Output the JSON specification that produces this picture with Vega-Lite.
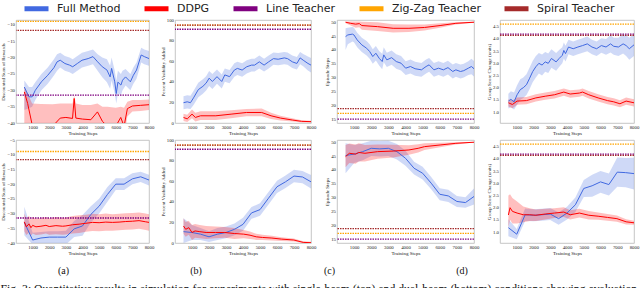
{
"$schema": "https://vega.github.io/schema/vega-lite/v6.json",
"padding": {"left": 0, "right": 0, "top": -6, "bottom": 0},
"title": {"text": "Fig. 3: Quantitative results in simulation for experiments with single-beam (top) and dual-beam (bottom) conditions showing evaluation", "orient": "bottom", "anchor": "start", "frame": "bounds", "fontSize": 11.7, "offset": 8},
"columns": 4,
"align": "each",
"bounds": "flush",
"spacing": {"row": 17, "column": 26},
"datasets": {
"t": [
{"p":"a1","s":"Line Teacher","y":-31.5},{"p":"a1","s":"Zig-Zag Teacher","y":-8.9},{"p":"a1","s":"Spiral Teacher","y":-11.7},
{"p":"a2","s":"Line Teacher","y":-31.5},{"p":"a2","s":"Zig-Zag Teacher","y":-8.9},{"p":"a2","s":"Spiral Teacher","y":-11.7},
{"p":"b1","s":"Line Teacher","y":91},{"p":"b1","s":"Zig-Zag Teacher","y":95},{"p":"b1","s":"Spiral Teacher","y":95},
{"p":"b2","s":"Line Teacher","y":91},{"p":"b2","s":"Zig-Zag Teacher","y":95},{"p":"b2","s":"Spiral Teacher","y":95},
{"p":"c1","s":"Line Teacher","y":15},{"p":"c1","s":"Zig-Zag Teacher","y":17.1},{"p":"c1","s":"Spiral Teacher","y":18.8},
{"p":"c2","s":"Line Teacher","y":15},{"p":"c2","s":"Zig-Zag Teacher","y":17.1},{"p":"c2","s":"Spiral Teacher","y":18.8},
{"p":"d1","s":"Line Teacher","y":4.2},{"p":"d1","s":"Zig-Zag Teacher","y":4.61},{"p":"d1","s":"Spiral Teacher","y":4.15},
{"p":"d2","s":"Line Teacher","y":4.2},{"p":"d2","s":"Zig-Zag Teacher","y":4.61},{"p":"d2","s":"Spiral Teacher","y":4.15}
],
"d": [
{"p":"a1","s":"Full Method","x":500,"m":-29,"lo":-36,"hi":-27},
{"p":"a1","s":"Full Method","x":780,"m":-32,"lo":-35.5,"hi":-29},
{"p":"a1","s":"Full Method","x":970,"m":-32,"lo":-35,"hi":-29},
{"p":"a1","s":"Full Method","x":1160,"m":-30,"lo":-33,"hi":-27.5},
{"p":"a1","s":"Full Method","x":1530,"m":-27.4,"lo":-30,"hi":-25},
{"p":"a1","s":"Full Method","x":1910,"m":-25.4,"lo":-28,"hi":-23},
{"p":"a1","s":"Full Method","x":2280,"m":-23.1,"lo":-25.5,"hi":-20.5},
{"p":"a1","s":"Full Method","x":2470,"m":-21.3,"lo":-24,"hi":-19},
{"p":"a1","s":"Full Method","x":2660,"m":-20.8,"lo":-23,"hi":-18.5},
{"p":"a1","s":"Full Method","x":2940,"m":-21.8,"lo":-24,"hi":-19.5},
{"p":"a1","s":"Full Method","x":3220,"m":-22.3,"lo":-24.5,"hi":-20},
{"p":"a1","s":"Full Method","x":3410,"m":-22.8,"lo":-25,"hi":-20.5},
{"p":"a1","s":"Full Method","x":3690,"m":-21.8,"lo":-24,"hi":-19.5},
{"p":"a1","s":"Full Method","x":3970,"m":-20.8,"lo":-23,"hi":-18.5},
{"p":"a1","s":"Full Method","x":4340,"m":-20.3,"lo":-22.5,"hi":-18},
{"p":"a1","s":"Full Method","x":4630,"m":-19.7,"lo":-22,"hi":-17.5},
{"p":"a1","s":"Full Method","x":4910,"m":-21.3,"lo":-24,"hi":-19},
{"p":"a1","s":"Full Method","x":5190,"m":-22.8,"lo":-26,"hi":-20},
{"p":"a1","s":"Full Method","x":5470,"m":-23.8,"lo":-27.5,"hi":-20.5},
{"p":"a1","s":"Full Method","x":5660,"m":-25.9,"lo":-29.5,"hi":-22.5},
{"p":"a1","s":"Full Method","x":5750,"m":-23.3,"lo":-27,"hi":-20},
{"p":"a1","s":"Full Method","x":5940,"m":-27.4,"lo":-31,"hi":-24},
{"p":"a1","s":"Full Method","x":6030,"m":-31,"lo":-34,"hi":-27},
{"p":"a1","s":"Full Method","x":6130,"m":-27.5,"lo":-31,"hi":-24},
{"p":"a1","s":"Full Method","x":6310,"m":-28.4,"lo":-31.5,"hi":-25},
{"p":"a1","s":"Full Method","x":6410,"m":-26.9,"lo":-30,"hi":-24},
{"p":"a1","s":"Full Method","x":6590,"m":-25.9,"lo":-28.5,"hi":-23.5},
{"p":"a1","s":"Full Method","x":6880,"m":-27.4,"lo":-30,"hi":-25},
{"p":"a1","s":"Full Method","x":7060,"m":-25.4,"lo":-28,"hi":-23},
{"p":"a1","s":"Full Method","x":7250,"m":-23.8,"lo":-26.5,"hi":-21.5},
{"p":"a1","s":"Full Method","x":7530,"m":-19.2,"lo":-21.5,"hi":-17},
{"p":"a1","s":"Full Method","x":7720,"m":-19.7,"lo":-22,"hi":-17.5},
{"p":"a1","s":"Full Method","x":8000,"m":-20.3,"lo":-22.5,"hi":-18},
{"p":"a1","s":"DDPG","x":500,"m":-30.5,"lo":-42,"hi":-29},
{"p":"a1","s":"DDPG","x":700,"m":-34,"lo":-42,"hi":-31},
{"p":"a1","s":"DDPG","x":970,"m":-40.5,"lo":-44,"hi":-34},
{"p":"a1","s":"DDPG","x":1500,"m":-41.5,"lo":-44,"hi":-34.2},
{"p":"a1","s":"DDPG","x":2200,"m":-41,"lo":-44,"hi":-34.3},
{"p":"a1","s":"DDPG","x":2660,"m":-38.5,"lo":-43,"hi":-34},
{"p":"a1","s":"DDPG","x":3000,"m":-38.3,"lo":-43,"hi":-34},
{"p":"a1","s":"DDPG","x":3400,"m":-38.6,"lo":-43,"hi":-34},
{"p":"a1","s":"DDPG","x":3500,"m":-32.5,"lo":-42,"hi":-31.5},
{"p":"a1","s":"DDPG","x":3600,"m":-38.5,"lo":-43,"hi":-34},
{"p":"a1","s":"DDPG","x":4000,"m":-38.8,"lo":-43,"hi":-34.5},
{"p":"a1","s":"DDPG","x":4500,"m":-39,"lo":-43,"hi":-34.5},
{"p":"a1","s":"DDPG","x":4900,"m":-36.6,"lo":-43,"hi":-34},
{"p":"a1","s":"DDPG","x":5200,"m":-39.5,"lo":-43,"hi":-35},
{"p":"a1","s":"DDPG","x":5500,"m":-41,"lo":-44,"hi":-35},
{"p":"a1","s":"DDPG","x":6000,"m":-41,"lo":-44,"hi":-35.3},
{"p":"a1","s":"DDPG","x":6300,"m":-38.3,"lo":-43,"hi":-35},
{"p":"a1","s":"DDPG","x":6500,"m":-41,"lo":-44,"hi":-35.3},
{"p":"a1","s":"DDPG","x":6700,"m":-35.6,"lo":-38,"hi":-33.5},
{"p":"a1","s":"DDPG","x":7000,"m":-34.8,"lo":-36.5,"hi":-33},
{"p":"a1","s":"DDPG","x":7500,"m":-34.6,"lo":-36.3,"hi":-33},
{"p":"a1","s":"DDPG","x":8000,"m":-34.4,"lo":-36,"hi":-32.8},
{"p":"a2","s":"Full Method","x":500,"m":-33,"lo":-37.4,"hi":-27.7},
{"p":"a2","s":"Full Method","x":1000,"m":-39,"lo":-40.5,"hi":-36.5},
{"p":"a2","s":"Full Method","x":1500,"m":-38.3,"lo":-40.3,"hi":-36.3},
{"p":"a2","s":"Full Method","x":2000,"m":-38,"lo":-40,"hi":-36},
{"p":"a2","s":"Full Method","x":2500,"m":-38,"lo":-40,"hi":-36},
{"p":"a2","s":"Full Method","x":3000,"m":-38,"lo":-40.5,"hi":-35.8},
{"p":"a2","s":"Full Method","x":3500,"m":-35.2,"lo":-38,"hi":-32.5},
{"p":"a2","s":"Full Method","x":4000,"m":-34.2,"lo":-37.5,"hi":-30.5},
{"p":"a2","s":"Full Method","x":4500,"m":-30.3,"lo":-33,"hi":-27.5},
{"p":"a2","s":"Full Method","x":5000,"m":-27.5,"lo":-30,"hi":-25},
{"p":"a2","s":"Full Method","x":5500,"m":-23.5,"lo":-26,"hi":-21},
{"p":"a2","s":"Full Method","x":6000,"m":-20,"lo":-22,"hi":-18},
{"p":"a2","s":"Full Method","x":6500,"m":-20,"lo":-22,"hi":-18},
{"p":"a2","s":"Full Method","x":7000,"m":-18.2,"lo":-20,"hi":-16.3},
{"p":"a2","s":"Full Method","x":7500,"m":-17.5,"lo":-19.3,"hi":-15.8},
{"p":"a2","s":"Full Method","x":8000,"m":-18.6,"lo":-20.5,"hi":-16.8},
{"p":"a2","s":"DDPG","x":500,"m":-32.8,"lo":-36,"hi":-30},
{"p":"a2","s":"DDPG","x":620,"m":-34.5,"lo":-37.3,"hi":-31.7},
{"p":"a2","s":"DDPG","x":780,"m":-33.5,"lo":-36.5,"hi":-30.7},
{"p":"a2","s":"DDPG","x":900,"m":-34.8,"lo":-37.6,"hi":-32},
{"p":"a2","s":"DDPG","x":1000,"m":-34,"lo":-36.8,"hi":-31.2},
{"p":"a2","s":"DDPG","x":1200,"m":-34.5,"lo":-37.3,"hi":-31.7},
{"p":"a2","s":"DDPG","x":1500,"m":-34.3,"lo":-37.1,"hi":-31.5},
{"p":"a2","s":"DDPG","x":1800,"m":-34,"lo":-36.8,"hi":-31.2},
{"p":"a2","s":"DDPG","x":2000,"m":-34.4,"lo":-37.2,"hi":-31.6},
{"p":"a2","s":"DDPG","x":2400,"m":-34.1,"lo":-37,"hi":-31.2},
{"p":"a2","s":"DDPG","x":2800,"m":-34.3,"lo":-37.2,"hi":-31.4},
{"p":"a2","s":"DDPG","x":3000,"m":-34.2,"lo":-37.1,"hi":-31.3},
{"p":"a2","s":"DDPG","x":3400,"m":-33.8,"lo":-36.8,"hi":-30.8},
{"p":"a2","s":"DDPG","x":3800,"m":-33.6,"lo":-36.6,"hi":-30.6},
{"p":"a2","s":"DDPG","x":4200,"m":-33.3,"lo":-36.2,"hi":-30.4},
{"p":"a2","s":"DDPG","x":4600,"m":-33,"lo":-35.9,"hi":-30.1},
{"p":"a2","s":"DDPG","x":5000,"m":-33.1,"lo":-36,"hi":-30.2},
{"p":"a2","s":"DDPG","x":5400,"m":-32.9,"lo":-35.8,"hi":-30},
{"p":"a2","s":"DDPG","x":5800,"m":-33,"lo":-35.8,"hi":-30.2},
{"p":"a2","s":"DDPG","x":6200,"m":-32.9,"lo":-35.7,"hi":-30.1},
{"p":"a2","s":"DDPG","x":6600,"m":-32.7,"lo":-35.5,"hi":-29.9},
{"p":"a2","s":"DDPG","x":7000,"m":-32.6,"lo":-35.4,"hi":-29.8},
{"p":"a2","s":"DDPG","x":7400,"m":-32.4,"lo":-35.2,"hi":-29.6},
{"p":"a2","s":"DDPG","x":7800,"m":-32.8,"lo":-35.6,"hi":-30},
{"p":"a2","s":"DDPG","x":8000,"m":-33,"lo":-35.8,"hi":-30.2},
{"p":"b1","s":"Full Method","x":500,"m":19.7,"lo":13.4,"hi":26},
{"p":"b1","s":"Full Method","x":720,"m":20.6,"lo":14,"hi":27},
{"p":"b1","s":"Full Method","x":910,"m":19.7,"lo":13.5,"hi":26.5},
{"p":"b1","s":"Full Method","x":1090,"m":24.4,"lo":17.5,"hi":31},
{"p":"b1","s":"Full Method","x":1370,"m":32.4,"lo":25,"hi":39},
{"p":"b1","s":"Full Method","x":1640,"m":35.6,"lo":28.5,"hi":42.5},
{"p":"b1","s":"Full Method","x":1830,"m":38.7,"lo":31.5,"hi":45.5},
{"p":"b1","s":"Full Method","x":2010,"m":43.5,"lo":36,"hi":50.5},
{"p":"b1","s":"Full Method","x":2200,"m":40.3,"lo":33,"hi":47.5},
{"p":"b1","s":"Full Method","x":2470,"m":45,"lo":38,"hi":52},
{"p":"b1","s":"Full Method","x":2750,"m":40.3,"lo":33.5,"hi":47},
{"p":"b1","s":"Full Method","x":2930,"m":46.7,"lo":40,"hi":53},
{"p":"b1","s":"Full Method","x":3210,"m":45,"lo":38.5,"hi":51.5},
{"p":"b1","s":"Full Method","x":3490,"m":51.4,"lo":45,"hi":58},
{"p":"b1","s":"Full Method","x":3670,"m":53,"lo":46.5,"hi":59.5},
{"p":"b1","s":"Full Method","x":3950,"m":51.4,"lo":45,"hi":58},
{"p":"b1","s":"Full Method","x":4220,"m":54.6,"lo":48,"hi":61},
{"p":"b1","s":"Full Method","x":4500,"m":56.2,"lo":50,"hi":62.5},
{"p":"b1","s":"Full Method","x":4680,"m":56.2,"lo":50,"hi":62.5},
{"p":"b1","s":"Full Method","x":4960,"m":59.4,"lo":53,"hi":65.5},
{"p":"b1","s":"Full Method","x":5240,"m":56.2,"lo":50,"hi":62.5},
{"p":"b1","s":"Full Method","x":5510,"m":59.4,"lo":53,"hi":65.5},
{"p":"b1","s":"Full Method","x":5790,"m":62.5,"lo":56.5,"hi":68.5},
{"p":"b1","s":"Full Method","x":6070,"m":61.9,"lo":56,"hi":68},
{"p":"b1","s":"Full Method","x":6430,"m":63.2,"lo":57,"hi":69},
{"p":"b1","s":"Full Method","x":6620,"m":62.5,"lo":56.5,"hi":68.5},
{"p":"b1","s":"Full Method","x":6900,"m":59.4,"lo":53.5,"hi":65.5},
{"p":"b1","s":"Full Method","x":7170,"m":57.8,"lo":52,"hi":64},
{"p":"b1","s":"Full Method","x":7360,"m":63.2,"lo":57,"hi":69},
{"p":"b1","s":"Full Method","x":7540,"m":61,"lo":55,"hi":67},
{"p":"b1","s":"Full Method","x":7820,"m":57.8,"lo":51,"hi":64.5},
{"p":"b1","s":"Full Method","x":8000,"m":56.2,"lo":49,"hi":63},
{"p":"b1","s":"DDPG","x":500,"m":5.4,"lo":2,"hi":9},
{"p":"b1","s":"DDPG","x":720,"m":4,"lo":1,"hi":8},
{"p":"b1","s":"DDPG","x":1000,"m":8.6,"lo":4.5,"hi":13},
{"p":"b1","s":"DDPG","x":1200,"m":5.4,"lo":1.5,"hi":10},
{"p":"b1","s":"DDPG","x":1500,"m":7,"lo":3,"hi":11.5},
{"p":"b1","s":"DDPG","x":2400,"m":7,"lo":3,"hi":11.5},
{"p":"b1","s":"DDPG","x":3300,"m":8.6,"lo":4.5,"hi":12.5},
{"p":"b1","s":"DDPG","x":4200,"m":10.2,"lo":6.5,"hi":13.5},
{"p":"b1","s":"DDPG","x":5100,"m":10.2,"lo":6.5,"hi":14},
{"p":"b1","s":"DDPG","x":5650,"m":7,"lo":4,"hi":10},
{"p":"b1","s":"DDPG","x":6200,"m":4.8,"lo":2.5,"hi":7},
{"p":"b1","s":"DDPG","x":6900,"m":2.9,"lo":1.5,"hi":4.5},
{"p":"b1","s":"DDPG","x":7450,"m":1.6,"lo":0.6,"hi":2.6},
{"p":"b1","s":"DDPG","x":8000,"m":1.3,"lo":0.5,"hi":2.1},
{"p":"b2","s":"Full Method","x":500,"m":11,"lo":0,"hi":24},
{"p":"b2","s":"Full Method","x":1000,"m":10.2,"lo":3,"hi":17.5},
{"p":"b2","s":"Full Method","x":1500,"m":8.6,"lo":3,"hi":14.5},
{"p":"b2","s":"Full Method","x":2000,"m":6,"lo":1,"hi":11.5},
{"p":"b2","s":"Full Method","x":2500,"m":8.6,"lo":3,"hi":14.5},
{"p":"b2","s":"Full Method","x":3000,"m":10.2,"lo":4.5,"hi":16},
{"p":"b2","s":"Full Method","x":3500,"m":13.3,"lo":7.5,"hi":19},
{"p":"b2","s":"Full Method","x":4000,"m":18.1,"lo":12,"hi":24.5},
{"p":"b2","s":"Full Method","x":4500,"m":29.2,"lo":23.5,"hi":35},
{"p":"b2","s":"Full Method","x":5000,"m":32.4,"lo":26.5,"hi":38.5},
{"p":"b2","s":"Full Method","x":5500,"m":43.5,"lo":37.5,"hi":49.5},
{"p":"b2","s":"Full Method","x":6000,"m":54.6,"lo":48.5,"hi":60.5},
{"p":"b2","s":"Full Method","x":6500,"m":59.4,"lo":53.5,"hi":65.5},
{"p":"b2","s":"Full Method","x":7000,"m":65,"lo":59,"hi":71},
{"p":"b2","s":"Full Method","x":7500,"m":64.1,"lo":58,"hi":70},
{"p":"b2","s":"Full Method","x":8000,"m":59.4,"lo":53,"hi":66},
{"p":"b2","s":"DDPG","x":500,"m":16.5,"lo":9,"hi":24},
{"p":"b2","s":"DDPG","x":630,"m":13.3,"lo":6,"hi":20.5},
{"p":"b2","s":"DDPG","x":810,"m":14.9,"lo":8,"hi":21.5},
{"p":"b2","s":"DDPG","x":1000,"m":10.2,"lo":3,"hi":17.5},
{"p":"b2","s":"DDPG","x":1180,"m":11.7,"lo":5,"hi":18.5},
{"p":"b2","s":"DDPG","x":1460,"m":11,"lo":4.5,"hi":17.5},
{"p":"b2","s":"DDPG","x":1830,"m":10.2,"lo":4,"hi":16.5},
{"p":"b2","s":"DDPG","x":2380,"m":10.2,"lo":4.5,"hi":16},
{"p":"b2","s":"DDPG","x":2930,"m":10.2,"lo":5,"hi":15.5},
{"p":"b2","s":"DDPG","x":3490,"m":9.2,"lo":4,"hi":14.5},
{"p":"b2","s":"DDPG","x":4040,"m":8.6,"lo":4.5,"hi":12.7},
{"p":"b2","s":"DDPG","x":4410,"m":7.6,"lo":4,"hi":11.2},
{"p":"b2","s":"DDPG","x":4780,"m":6,"lo":3,"hi":9},
{"p":"b2","s":"DDPG","x":5140,"m":5.4,"lo":2.8,"hi":8},
{"p":"b2","s":"DDPG","x":5700,"m":4.8,"lo":2.5,"hi":7.1},
{"p":"b2","s":"DDPG","x":6250,"m":3.8,"lo":2,"hi":5.6},
{"p":"b2","s":"DDPG","x":6990,"m":2.9,"lo":1.4,"hi":4.4},
{"p":"b2","s":"DDPG","x":7540,"m":0.6,"lo":0,"hi":1.6},
{"p":"b2","s":"DDPG","x":8000,"m":0.3,"lo":0,"hi":1.2},
{"p":"c1","s":"Full Method","x":500,"m":44.8,"lo":40,"hi":47.8},
{"p":"c1","s":"Full Method","x":630,"m":45.4,"lo":42,"hi":48},
{"p":"c1","s":"Full Method","x":900,"m":45.7,"lo":43,"hi":48.3},
{"p":"c1","s":"Full Method","x":990,"m":45.4,"lo":42.8,"hi":48},
{"p":"c1","s":"Full Method","x":1180,"m":43.6,"lo":41,"hi":46.2},
{"p":"c1","s":"Full Method","x":1450,"m":41.8,"lo":39.2,"hi":44.4},
{"p":"c1","s":"Full Method","x":1730,"m":40.6,"lo":38,"hi":43.2},
{"p":"c1","s":"Full Method","x":1910,"m":39.4,"lo":36.8,"hi":42},
{"p":"c1","s":"Full Method","x":2090,"m":37.6,"lo":35,"hi":40.2},
{"p":"c1","s":"Full Method","x":2270,"m":38.8,"lo":36.2,"hi":41.4},
{"p":"c1","s":"Full Method","x":2460,"m":37,"lo":34.4,"hi":39.6},
{"p":"c1","s":"Full Method","x":2640,"m":35.8,"lo":33,"hi":38.6},
{"p":"c1","s":"Full Method","x":2730,"m":38.2,"lo":35.5,"hi":41},
{"p":"c1","s":"Full Method","x":2910,"m":36.4,"lo":33.8,"hi":39},
{"p":"c1","s":"Full Method","x":3190,"m":37.2,"lo":34.6,"hi":39.8},
{"p":"c1","s":"Full Method","x":3460,"m":35.8,"lo":33.2,"hi":38.4},
{"p":"c1","s":"Full Method","x":3740,"m":35.2,"lo":32.6,"hi":37.8},
{"p":"c1","s":"Full Method","x":4010,"m":33.4,"lo":30.9,"hi":35.9},
{"p":"c1","s":"Full Method","x":4290,"m":34,"lo":31.5,"hi":36.5},
{"p":"c1","s":"Full Method","x":4560,"m":33.2,"lo":30.7,"hi":35.7},
{"p":"c1","s":"Full Method","x":4930,"m":32.8,"lo":30.3,"hi":35.3},
{"p":"c1","s":"Full Method","x":5200,"m":34,"lo":31.5,"hi":36.5},
{"p":"c1","s":"Full Method","x":5380,"m":34.6,"lo":32.1,"hi":37.1},
{"p":"c1","s":"Full Method","x":5660,"m":32.8,"lo":30.3,"hi":35.3},
{"p":"c1","s":"Full Method","x":5930,"m":33.4,"lo":30.9,"hi":35.9},
{"p":"c1","s":"Full Method","x":6210,"m":32.8,"lo":30.3,"hi":35.3},
{"p":"c1","s":"Full Method","x":6480,"m":33.6,"lo":31.1,"hi":36.1},
{"p":"c1","s":"Full Method","x":6760,"m":32.2,"lo":29.7,"hi":34.7},
{"p":"c1","s":"Full Method","x":6940,"m":32.8,"lo":30.3,"hi":35.3},
{"p":"c1","s":"Full Method","x":7210,"m":32.2,"lo":29.7,"hi":34.7},
{"p":"c1","s":"Full Method","x":7400,"m":32.5,"lo":30,"hi":35},
{"p":"c1","s":"Full Method","x":7670,"m":33.4,"lo":30.9,"hi":35.9},
{"p":"c1","s":"Full Method","x":7850,"m":34,"lo":31.2,"hi":36.8},
{"p":"c1","s":"Full Method","x":8000,"m":33.2,"lo":30.4,"hi":36},
{"p":"c1","s":"DDPG","x":500,"m":50,"lo":49.6,"hi":50.3},
{"p":"c1","s":"DDPG","x":800,"m":49.6,"lo":48.8,"hi":50.3},
{"p":"c1","s":"DDPG","x":1090,"m":49.3,"lo":48,"hi":50.3},
{"p":"c1","s":"DDPG","x":1300,"m":49.5,"lo":48.2,"hi":50.3},
{"p":"c1","s":"DDPG","x":1450,"m":48.8,"lo":47.3,"hi":50.2},
{"p":"c1","s":"DDPG","x":2370,"m":48.4,"lo":46.8,"hi":50},
{"p":"c1","s":"DDPG","x":3280,"m":47.8,"lo":46.3,"hi":49.3},
{"p":"c1","s":"DDPG","x":4200,"m":47.8,"lo":46.5,"hi":49.2},
{"p":"c1","s":"DDPG","x":5110,"m":48.1,"lo":47,"hi":49.2},
{"p":"c1","s":"DDPG","x":6020,"m":48.8,"lo":48,"hi":49.6},
{"p":"c1","s":"DDPG","x":6940,"m":49.6,"lo":49.2,"hi":50},
{"p":"c1","s":"DDPG","x":8000,"m":50,"lo":49.8,"hi":50.2},
{"p":"c2","s":"Full Method","x":500,"m":45.2,"lo":38.8,"hi":49.6},
{"p":"c2","s":"Full Method","x":1000,"m":45.7,"lo":42.5,"hi":49},
{"p":"c2","s":"Full Method","x":1500,"m":46.6,"lo":43.5,"hi":49.6},
{"p":"c2","s":"Full Method","x":2000,"m":47.8,"lo":45,"hi":50.5},
{"p":"c2","s":"Full Method","x":2500,"m":47.6,"lo":44.8,"hi":50.4},
{"p":"c2","s":"Full Method","x":3000,"m":47.8,"lo":45,"hi":50.5},
{"p":"c2","s":"Full Method","x":3500,"m":46.6,"lo":43.8,"hi":49.4},
{"p":"c2","s":"Full Method","x":4000,"m":44.2,"lo":41.5,"hi":46.9},
{"p":"c2","s":"Full Method","x":4500,"m":40.6,"lo":38.3,"hi":42.9},
{"p":"c2","s":"Full Method","x":5000,"m":38.8,"lo":36.5,"hi":41.1},
{"p":"c2","s":"Full Method","x":5500,"m":35.2,"lo":33,"hi":37.4},
{"p":"c2","s":"Full Method","x":6000,"m":31.2,"lo":29,"hi":33.4},
{"p":"c2","s":"Full Method","x":6500,"m":30.6,"lo":28.4,"hi":32.8},
{"p":"c2","s":"Full Method","x":7000,"m":28.6,"lo":26.6,"hi":30.6},
{"p":"c2","s":"Full Method","x":7500,"m":28.2,"lo":26.3,"hi":30.1},
{"p":"c2","s":"Full Method","x":8000,"m":30.4,"lo":27.5,"hi":33.3},
{"p":"c2","s":"DDPG","x":500,"m":44.8,"lo":41,"hi":49},
{"p":"c2","s":"DDPG","x":720,"m":46,"lo":42.5,"hi":49.5},
{"p":"c2","s":"DDPG","x":1090,"m":45.7,"lo":42.2,"hi":49.2},
{"p":"c2","s":"DDPG","x":1270,"m":46.3,"lo":43,"hi":49.6},
{"p":"c2","s":"DDPG","x":1630,"m":46,"lo":43,"hi":49},
{"p":"c2","s":"DDPG","x":2370,"m":46.6,"lo":44,"hi":49.2},
{"p":"c2","s":"DDPG","x":3280,"m":46.8,"lo":44.5,"hi":49.1},
{"p":"c2","s":"DDPG","x":4200,"m":47.2,"lo":45.5,"hi":48.9},
{"p":"c2","s":"DDPG","x":4740,"m":47.8,"lo":46.3,"hi":49.3},
{"p":"c2","s":"DDPG","x":5110,"m":48.4,"lo":47.2,"hi":49.6},
{"p":"c2","s":"DDPG","x":6020,"m":49,"lo":48.2,"hi":49.8},
{"p":"c2","s":"DDPG","x":6940,"m":49.6,"lo":49.2,"hi":50},
{"p":"c2","s":"DDPG","x":8000,"m":50,"lo":49.9,"hi":50.1},
{"p":"d1","s":"Full Method","x":500,"m":1.45,"lo":1.15,"hi":1.75},
{"p":"d1","s":"Full Method","x":650,"m":1.52,"lo":1.2,"hi":1.85},
{"p":"d1","s":"Full Method","x":840,"m":1.42,"lo":1.1,"hi":1.8},
{"p":"d1","s":"Full Method","x":1020,"m":1.71,"lo":1.3,"hi":2.1},
{"p":"d1","s":"Full Method","x":1210,"m":1.92,"lo":1.5,"hi":2.35},
{"p":"d1","s":"Full Method","x":1390,"m":2.0,"lo":1.58,"hi":2.42},
{"p":"d1","s":"Full Method","x":1580,"m":2.12,"lo":1.7,"hi":2.55},
{"p":"d1","s":"Full Method","x":1770,"m":2.39,"lo":1.95,"hi":2.83},
{"p":"d1","s":"Full Method","x":1950,"m":2.66,"lo":2.22,"hi":3.1},
{"p":"d1","s":"Full Method","x":2140,"m":2.86,"lo":2.42,"hi":3.3},
{"p":"d1","s":"Full Method","x":2320,"m":3.0,"lo":2.58,"hi":3.42},
{"p":"d1","s":"Full Method","x":2510,"m":2.93,"lo":2.5,"hi":3.36},
{"p":"d1","s":"Full Method","x":2700,"m":3.06,"lo":2.65,"hi":3.47},
{"p":"d1","s":"Full Method","x":2880,"m":3.0,"lo":2.6,"hi":3.4},
{"p":"d1","s":"Full Method","x":3070,"m":3.2,"lo":2.82,"hi":3.58},
{"p":"d1","s":"Full Method","x":3350,"m":3.06,"lo":2.7,"hi":3.42},
{"p":"d1","s":"Full Method","x":3530,"m":3.2,"lo":2.85,"hi":3.55},
{"p":"d1","s":"Full Method","x":3720,"m":3.33,"lo":3.0,"hi":3.66},
{"p":"d1","s":"Full Method","x":3810,"m":3.53,"lo":3.2,"hi":3.86},
{"p":"d1","s":"Full Method","x":3910,"m":3.4,"lo":3.08,"hi":3.72},
{"p":"d1","s":"Full Method","x":4090,"m":3.67,"lo":3.37,"hi":3.97},
{"p":"d1","s":"Full Method","x":4370,"m":3.6,"lo":3.3,"hi":3.9},
{"p":"d1","s":"Full Method","x":4650,"m":3.67,"lo":3.37,"hi":3.97},
{"p":"d1","s":"Full Method","x":4930,"m":3.73,"lo":3.43,"hi":4.03},
{"p":"d1","s":"Full Method","x":5210,"m":3.8,"lo":3.5,"hi":4.1},
{"p":"d1","s":"Full Method","x":5490,"m":3.67,"lo":3.37,"hi":3.97},
{"p":"d1","s":"Full Method","x":5770,"m":3.6,"lo":3.3,"hi":3.9},
{"p":"d1","s":"Full Method","x":6050,"m":3.73,"lo":3.43,"hi":4.03},
{"p":"d1","s":"Full Method","x":6330,"m":3.67,"lo":3.35,"hi":4.0},
{"p":"d1","s":"Full Method","x":6600,"m":3.8,"lo":3.45,"hi":4.15},
{"p":"d1","s":"Full Method","x":6790,"m":3.7,"lo":3.35,"hi":4.05},
{"p":"d1","s":"Full Method","x":7070,"m":3.67,"lo":3.3,"hi":4.05},
{"p":"d1","s":"Full Method","x":7350,"m":3.8,"lo":3.4,"hi":4.2},
{"p":"d1","s":"Full Method","x":7530,"m":3.73,"lo":3.3,"hi":4.16},
{"p":"d1","s":"Full Method","x":7720,"m":3.6,"lo":3.15,"hi":4.05},
{"p":"d1","s":"Full Method","x":8000,"m":3.76,"lo":3.3,"hi":4.2},
{"p":"d1","s":"DDPG","x":500,"m":1.38,"lo":1.23,"hi":1.53},
{"p":"d1","s":"DDPG","x":740,"m":1.31,"lo":1.16,"hi":1.46},
{"p":"d1","s":"DDPG","x":1020,"m":1.45,"lo":1.3,"hi":1.6},
{"p":"d1","s":"DDPG","x":1580,"m":1.47,"lo":1.32,"hi":1.62},
{"p":"d1","s":"DDPG","x":2140,"m":1.58,"lo":1.43,"hi":1.73},
{"p":"d1","s":"DDPG","x":2700,"m":1.65,"lo":1.5,"hi":1.8},
{"p":"d1","s":"DDPG","x":3250,"m":1.71,"lo":1.56,"hi":1.86},
{"p":"d1","s":"DDPG","x":3810,"m":1.82,"lo":1.67,"hi":1.97},
{"p":"d1","s":"DDPG","x":4190,"m":1.74,"lo":1.59,"hi":1.89},
{"p":"d1","s":"DDPG","x":4740,"m":1.78,"lo":1.63,"hi":1.93},
{"p":"d1","s":"DDPG","x":4930,"m":1.82,"lo":1.67,"hi":1.97},
{"p":"d1","s":"DDPG","x":5300,"m":1.71,"lo":1.56,"hi":1.86},
{"p":"d1","s":"DDPG","x":5860,"m":1.58,"lo":1.43,"hi":1.73},
{"p":"d1","s":"DDPG","x":6420,"m":1.47,"lo":1.32,"hi":1.62},
{"p":"d1","s":"DDPG","x":6790,"m":1.42,"lo":1.27,"hi":1.57},
{"p":"d1","s":"DDPG","x":7160,"m":1.34,"lo":1.2,"hi":1.48},
{"p":"d1","s":"DDPG","x":7530,"m":1.45,"lo":1.3,"hi":1.6},
{"p":"d1","s":"DDPG","x":8000,"m":1.38,"lo":1.23,"hi":1.53},
{"p":"d2","s":"Full Method","x":500,"m":1.18,"lo":0.83,"hi":1.53},
{"p":"d2","s":"Full Method","x":1000,"m":0.91,"lo":0.7,"hi":1.12},
{"p":"d2","s":"Full Method","x":1500,"m":1.71,"lo":1.45,"hi":1.97},
{"p":"d2","s":"Full Method","x":2000,"m":1.69,"lo":1.44,"hi":1.94},
{"p":"d2","s":"Full Method","x":2500,"m":1.71,"lo":1.46,"hi":1.96},
{"p":"d2","s":"Full Method","x":3000,"m":1.74,"lo":1.49,"hi":1.99},
{"p":"d2","s":"Full Method","x":3500,"m":1.55,"lo":1.3,"hi":1.8},
{"p":"d2","s":"Full Method","x":4000,"m":1.78,"lo":1.52,"hi":2.04},
{"p":"d2","s":"Full Method","x":4500,"m":2.12,"lo":1.82,"hi":2.42},
{"p":"d2","s":"Full Method","x":5000,"m":2.79,"lo":2.44,"hi":3.14},
{"p":"d2","s":"Full Method","x":5500,"m":2.9,"lo":2.45,"hi":3.35},
{"p":"d2","s":"Full Method","x":6000,"m":3.06,"lo":2.61,"hi":3.51},
{"p":"d2","s":"Full Method","x":6500,"m":2.95,"lo":2.5,"hi":3.4},
{"p":"d2","s":"Full Method","x":7000,"m":3.46,"lo":2.86,"hi":4.06},
{"p":"d2","s":"Full Method","x":7500,"m":3.44,"lo":2.84,"hi":4.04},
{"p":"d2","s":"Full Method","x":8000,"m":3.4,"lo":2.75,"hi":4.05},
{"p":"d2","s":"DDPG","x":500,"m":1.7,"lo":1.2,"hi":2.5},
{"p":"d2","s":"DDPG","x":600,"m":2.0,"lo":1.5,"hi":2.55},
{"p":"d2","s":"DDPG","x":740,"m":1.85,"lo":1.35,"hi":2.4},
{"p":"d2","s":"DDPG","x":1020,"m":1.78,"lo":1.35,"hi":2.25},
{"p":"d2","s":"DDPG","x":1390,"m":1.71,"lo":1.4,"hi":2.05},
{"p":"d2","s":"DDPG","x":1770,"m":1.71,"lo":1.45,"hi":1.98},
{"p":"d2","s":"DDPG","x":2140,"m":1.69,"lo":1.45,"hi":1.93},
{"p":"d2","s":"DDPG","x":2700,"m":1.74,"lo":1.52,"hi":1.96},
{"p":"d2","s":"DDPG","x":3250,"m":1.78,"lo":1.58,"hi":1.98},
{"p":"d2","s":"DDPG","x":3810,"m":1.82,"lo":1.62,"hi":2.02},
{"p":"d2","s":"DDPG","x":4190,"m":1.71,"lo":1.52,"hi":1.9},
{"p":"d2","s":"DDPG","x":4740,"m":1.78,"lo":1.6,"hi":1.96},
{"p":"d2","s":"DDPG","x":5300,"m":1.69,"lo":1.52,"hi":1.86},
{"p":"d2","s":"DDPG","x":5860,"m":1.65,"lo":1.5,"hi":1.8},
{"p":"d2","s":"DDPG","x":6420,"m":1.6,"lo":1.46,"hi":1.74},
{"p":"d2","s":"DDPG","x":6980,"m":1.55,"lo":1.42,"hi":1.68},
{"p":"d2","s":"DDPG","x":7530,"m":1.42,"lo":1.31,"hi":1.53},
{"p":"d2","s":"DDPG","x":8000,"m":1.38,"lo":1.3,"hi":1.46}
]
},
"concat": [
{"width": 133, "height": 103, "layer": [
 {"data": {"name": "d"}, "transform": [{"filter": "datum.p=='a1'"}], "mark": {"type": "area", "opacity": 0.25, "clip": true},
  "encoding": {"x": {"field": "x", "type": "quantitative", "scale": {"domain": [500, 8000]}, "axis": {"values": [1000,2000,3000,4000,5000,6000,7000,8000], "tickCount": 20, "format": "d", "labelOverlap": false, "title": "Training Steps"}},
   "y": {"field": "lo", "type": "quantitative", "stack": null, "scale": {"domain": [-40, -8.5], "nice": false, "zero": false}, "axis": {"values": [-40,-35,-30,-25,-20,-15,-10], "tickCount": 20, "format": "d", "labelOverlap": false, "title": "Discounted Sum of Rewards"}},
   "y2": {"field": "hi"},
   "color": {"field": "s", "type": "nominal", "scale": {"domain": ["Full Method","DDPG","Line Teacher","Zig-Zag Teacher","Spiral Teacher"]},
    "legend": {"orient": "none", "legendX": 6, "legendY": -26, "direction": "horizontal", "columns": 5, "columnPadding": 13, "title": null, "symbolType": "stroke", "symbolSize": 576, "symbolStrokeWidth": 5, "symbolOpacity": 1, "symbolDash": [1, 0], "labelFont": "DejaVu Sans", "labelFontSize": 11, "labelOffset": 6, "labelColor": "#222",
     "encode": {"symbols": {"update": {"shape": {"value": "stroke"}, "stroke": {"scale": "color", "field": "value"}, "strokeWidth": {"value": 5}, "opacity": {"value": 1}, "strokeOpacity": {"value": 1}, "fillOpacity": {"value": 0}, "strokeDash": {"value": [1, 0]}, "fill": {"value": "transparent"}}}}}}}},
 {"data": {"name": "d"}, "transform": [{"filter": "datum.p=='a1'"}], "mark": {"type": "line", "strokeWidth": 1, "clip": true},
  "encoding": {"x": {"field": "x", "type": "quantitative"}, "y": {"field": "m", "type": "quantitative"}, "color": {"field": "s", "type": "nominal", "scale": {"domain": ["Full Method","DDPG","Line Teacher","Zig-Zag Teacher","Spiral Teacher"]}}}},
 {"data": {"name": "t"}, "transform": [{"filter": "datum.p=='a1'"}], "mark": {"type": "rule", "strokeDash": [1.5, 1], "strokeWidth": 1.3},
  "encoding": {"y": {"field": "y", "type": "quantitative"}, "color": {"field": "s", "type": "nominal", "scale": {"domain": ["Full Method","DDPG","Line Teacher","Zig-Zag Teacher","Spiral Teacher"]}}}}
]},
{"width": 136, "height": 103, "layer": [
 {"data": {"name": "d"}, "transform": [{"filter": "datum.p=='b1'"}], "mark": {"type": "area", "opacity": 0.25, "clip": true},
  "encoding": {"x": {"field": "x", "type": "quantitative", "scale": {"domain": [500, 8000]}, "axis": {"values": [1000,2000,3000,4000,5000,6000,7000,8000], "tickCount": 20, "format": "d", "labelOverlap": false, "title": "Training Steps"}},
   "y": {"field": "lo", "type": "quantitative", "stack": null, "scale": {"domain": [0, 100], "nice": false, "zero": false}, "axis": {"values": [0,20,40,60,80,100], "tickCount": 20, "format": "d", "labelOverlap": false, "title": "Percent Visibility Added"}},
   "y2": {"field": "hi"},
   "color": {"field": "s", "type": "nominal", "scale": {"domain": ["Full Method","DDPG","Line Teacher","Zig-Zag Teacher","Spiral Teacher"]}}}},
 {"data": {"name": "d"}, "transform": [{"filter": "datum.p=='b1'"}], "mark": {"type": "line", "strokeWidth": 1, "clip": true},
  "encoding": {"x": {"field": "x", "type": "quantitative"}, "y": {"field": "m", "type": "quantitative"}, "color": {"field": "s", "type": "nominal", "scale": {"domain": ["Full Method","DDPG","Line Teacher","Zig-Zag Teacher","Spiral Teacher"]}}}},
 {"data": {"name": "t"}, "transform": [{"filter": "datum.p=='b1'"}], "mark": {"type": "rule", "strokeDash": [1.5, 1], "strokeWidth": 1.3},
  "encoding": {"y": {"field": "y", "type": "quantitative"}, "color": {"field": "s", "type": "nominal", "scale": {"domain": ["Full Method","DDPG","Line Teacher","Zig-Zag Teacher","Spiral Teacher"]}}}}
]},
{"width": 137, "height": 103, "layer": [
 {"data": {"name": "d"}, "transform": [{"filter": "datum.p=='c1'"}], "mark": {"type": "area", "opacity": 0.25, "clip": true},
  "encoding": {"x": {"field": "x", "type": "quantitative", "scale": {"domain": [500, 8000]}, "axis": {"values": [1000,2000,3000,4000,5000,6000,7000,8000], "tickCount": 20, "format": "d", "labelOverlap": false, "title": "Training Steps"}},
   "y": {"field": "lo", "type": "quantitative", "stack": null, "scale": {"domain": [13.6, 50.8], "nice": false, "zero": false}, "axis": {"values": [15,20,25,30,35,40,45,50], "tickCount": 20, "format": "d", "labelOverlap": false, "title": "Episode Steps"}},
   "y2": {"field": "hi"},
   "color": {"field": "s", "type": "nominal", "scale": {"domain": ["Full Method","DDPG","Line Teacher","Zig-Zag Teacher","Spiral Teacher"]}}}},
 {"data": {"name": "d"}, "transform": [{"filter": "datum.p=='c1'"}], "mark": {"type": "line", "strokeWidth": 1, "clip": true},
  "encoding": {"x": {"field": "x", "type": "quantitative"}, "y": {"field": "m", "type": "quantitative"}, "color": {"field": "s", "type": "nominal", "scale": {"domain": ["Full Method","DDPG","Line Teacher","Zig-Zag Teacher","Spiral Teacher"]}}}},
 {"data": {"name": "t"}, "transform": [{"filter": "datum.p=='c1'"}], "mark": {"type": "rule", "strokeDash": [1.5, 1], "strokeWidth": 1.3},
  "encoding": {"y": {"field": "y", "type": "quantitative"}, "color": {"field": "s", "type": "nominal", "scale": {"domain": ["Full Method","DDPG","Line Teacher","Zig-Zag Teacher","Spiral Teacher"]}}}}
]},
{"width": 134, "height": 103, "layer": [
 {"data": {"name": "d"}, "transform": [{"filter": "datum.p=='d1'"}], "mark": {"type": "area", "opacity": 0.25, "clip": true},
  "encoding": {"x": {"field": "x", "type": "quantitative", "scale": {"domain": [500, 8000]}, "axis": {"values": [1000,2000,3000,4000,5000,6000,7000,8000], "tickCount": 20, "format": "d", "labelOverlap": false, "title": "Training Steps"}},
   "y": {"field": "lo", "type": "quantitative", "stack": null, "scale": {"domain": [0.55, 4.78], "nice": false, "zero": false}, "axis": {"values": [1,1.5,2,2.5,3,3.5,4,4.5], "tickCount": 20, "format": ".1f", "labelOverlap": false, "title": "Group Score Change (units)"}},
   "y2": {"field": "hi"},
   "color": {"field": "s", "type": "nominal", "scale": {"domain": ["Full Method","DDPG","Line Teacher","Zig-Zag Teacher","Spiral Teacher"]}}}},
 {"data": {"name": "d"}, "transform": [{"filter": "datum.p=='d1'"}], "mark": {"type": "line", "strokeWidth": 1, "clip": true},
  "encoding": {"x": {"field": "x", "type": "quantitative"}, "y": {"field": "m", "type": "quantitative"}, "color": {"field": "s", "type": "nominal", "scale": {"domain": ["Full Method","DDPG","Line Teacher","Zig-Zag Teacher","Spiral Teacher"]}}}},
 {"data": {"name": "t"}, "transform": [{"filter": "datum.p=='d1'"}], "mark": {"type": "rule", "strokeDash": [1.5, 1], "strokeWidth": 1.3},
  "encoding": {"y": {"field": "y", "type": "quantitative"}, "color": {"field": "s", "type": "nominal", "scale": {"domain": ["Full Method","DDPG","Line Teacher","Zig-Zag Teacher","Spiral Teacher"]}}}}
]},
{"width": 133, "height": 103, "title": {"text": "(a)", "orient": "bottom", "frame": "group", "anchor": "middle", "dx": -19, "offset": 10}, "layer": [
 {"data": {"name": "d"}, "transform": [{"filter": "datum.p=='a2'"}], "mark": {"type": "area", "opacity": 0.25, "clip": true},
  "encoding": {"x": {"field": "x", "type": "quantitative", "scale": {"domain": [500, 8000]}, "axis": {"values": [1000,2000,3000,4000,5000,6000,7000,8000], "tickCount": 20, "format": "d", "labelOverlap": false, "title": "Training Steps"}},
   "y": {"field": "lo", "type": "quantitative", "stack": null, "scale": {"domain": [-40, -5], "nice": false, "zero": false}, "axis": {"values": [-40,-35,-30,-25,-20,-15,-10,-5], "tickCount": 20, "format": "d", "labelOverlap": false, "title": "Discounted Sum of Rewards"}},
   "y2": {"field": "hi"},
   "color": {"field": "s", "type": "nominal", "scale": {"domain": ["Full Method","DDPG","Line Teacher","Zig-Zag Teacher","Spiral Teacher"]}}}},
 {"data": {"name": "d"}, "transform": [{"filter": "datum.p=='a2'"}], "mark": {"type": "line", "strokeWidth": 1, "clip": true},
  "encoding": {"x": {"field": "x", "type": "quantitative"}, "y": {"field": "m", "type": "quantitative"}, "color": {"field": "s", "type": "nominal", "scale": {"domain": ["Full Method","DDPG","Line Teacher","Zig-Zag Teacher","Spiral Teacher"]}}}},
 {"data": {"name": "t"}, "transform": [{"filter": "datum.p=='a2'"}], "mark": {"type": "rule", "strokeDash": [1.5, 1], "strokeWidth": 1.3},
  "encoding": {"y": {"field": "y", "type": "quantitative"}, "color": {"field": "s", "type": "nominal", "scale": {"domain": ["Full Method","DDPG","Line Teacher","Zig-Zag Teacher","Spiral Teacher"]}}}}
]},
{"width": 136, "height": 103, "title": {"text": "(b)", "orient": "bottom", "frame": "group", "anchor": "middle", "dx": -47, "offset": 10}, "layer": [
 {"data": {"name": "d"}, "transform": [{"filter": "datum.p=='b2'"}], "mark": {"type": "area", "opacity": 0.25, "clip": true},
  "encoding": {"x": {"field": "x", "type": "quantitative", "scale": {"domain": [500, 8000]}, "axis": {"values": [1000,2000,3000,4000,5000,6000,7000,8000], "tickCount": 20, "format": "d", "labelOverlap": false, "title": "Training Steps"}},
   "y": {"field": "lo", "type": "quantitative", "stack": null, "scale": {"domain": [0, 100], "nice": false, "zero": false}, "axis": {"values": [0,20,40,60,80,100], "tickCount": 20, "format": "d", "labelOverlap": false, "title": "Percent Visibility Added"}},
   "y2": {"field": "hi"},
   "color": {"field": "s", "type": "nominal", "scale": {"domain": ["Full Method","DDPG","Line Teacher","Zig-Zag Teacher","Spiral Teacher"]}}}},
 {"data": {"name": "d"}, "transform": [{"filter": "datum.p=='b2'"}], "mark": {"type": "line", "strokeWidth": 1, "clip": true},
  "encoding": {"x": {"field": "x", "type": "quantitative"}, "y": {"field": "m", "type": "quantitative"}, "color": {"field": "s", "type": "nominal", "scale": {"domain": ["Full Method","DDPG","Line Teacher","Zig-Zag Teacher","Spiral Teacher"]}}}},
 {"data": {"name": "t"}, "transform": [{"filter": "datum.p=='b2'"}], "mark": {"type": "rule", "strokeDash": [1.5, 1], "strokeWidth": 1.3},
  "encoding": {"y": {"field": "y", "type": "quantitative"}, "color": {"field": "s", "type": "nominal", "scale": {"domain": ["Full Method","DDPG","Line Teacher","Zig-Zag Teacher","Spiral Teacher"]}}}}
]},
{"width": 137, "height": 103, "title": {"text": "(c)", "orient": "bottom", "frame": "group", "anchor": "middle", "dx": -76, "offset": 10}, "layer": [
 {"data": {"name": "d"}, "transform": [{"filter": "datum.p=='c2'"}], "mark": {"type": "area", "opacity": 0.25, "clip": true},
  "encoding": {"x": {"field": "x", "type": "quantitative", "scale": {"domain": [500, 8000]}, "axis": {"values": [1000,2000,3000,4000,5000,6000,7000,8000], "tickCount": 20, "format": "d", "labelOverlap": false, "title": "Training Steps"}},
   "y": {"field": "lo", "type": "quantitative", "stack": null, "scale": {"domain": [13.6, 50.8], "nice": false, "zero": false}, "axis": {"values": [15,20,25,30,35,40,45,50], "tickCount": 20, "format": "d", "labelOverlap": false, "title": "Episode Steps"}},
   "y2": {"field": "hi"},
   "color": {"field": "s", "type": "nominal", "scale": {"domain": ["Full Method","DDPG","Line Teacher","Zig-Zag Teacher","Spiral Teacher"]}}}},
 {"data": {"name": "d"}, "transform": [{"filter": "datum.p=='c2'"}], "mark": {"type": "line", "strokeWidth": 1, "clip": true},
  "encoding": {"x": {"field": "x", "type": "quantitative"}, "y": {"field": "m", "type": "quantitative"}, "color": {"field": "s", "type": "nominal", "scale": {"domain": ["Full Method","DDPG","Line Teacher","Zig-Zag Teacher","Spiral Teacher"]}}}},
 {"data": {"name": "t"}, "transform": [{"filter": "datum.p=='c2'"}], "mark": {"type": "rule", "strokeDash": [1.5, 1], "strokeWidth": 1.3},
  "encoding": {"y": {"field": "y", "type": "quantitative"}, "color": {"field": "s", "type": "nominal", "scale": {"domain": ["Full Method","DDPG","Line Teacher","Zig-Zag Teacher","Spiral Teacher"]}}}}
]},
{"width": 134, "height": 103, "title": {"text": "(d)", "orient": "bottom", "frame": "group", "anchor": "middle", "dx": -105, "offset": 10}, "layer": [
 {"data": {"name": "d"}, "transform": [{"filter": "datum.p=='d2'"}], "mark": {"type": "area", "opacity": 0.25, "clip": true},
  "encoding": {"x": {"field": "x", "type": "quantitative", "scale": {"domain": [500, 8000]}, "axis": {"values": [1000,2000,3000,4000,5000,6000,7000,8000], "tickCount": 20, "format": "d", "labelOverlap": false, "title": "Training Steps"}},
   "y": {"field": "lo", "type": "quantitative", "stack": null, "scale": {"domain": [0.55, 4.78], "nice": false, "zero": false}, "axis": {"values": [1,1.5,2,2.5,3,3.5,4,4.5], "tickCount": 20, "format": ".1f", "labelOverlap": false, "title": "Group Score Change (units)"}},
   "y2": {"field": "hi"},
   "color": {"field": "s", "type": "nominal", "scale": {"domain": ["Full Method","DDPG","Line Teacher","Zig-Zag Teacher","Spiral Teacher"]}}}},
 {"data": {"name": "d"}, "transform": [{"filter": "datum.p=='d2'"}], "mark": {"type": "line", "strokeWidth": 1, "clip": true},
  "encoding": {"x": {"field": "x", "type": "quantitative"}, "y": {"field": "m", "type": "quantitative"}, "color": {"field": "s", "type": "nominal", "scale": {"domain": ["Full Method","DDPG","Line Teacher","Zig-Zag Teacher","Spiral Teacher"]}}}},
 {"data": {"name": "t"}, "transform": [{"filter": "datum.p=='d2'"}], "mark": {"type": "rule", "strokeDash": [1.5, 1], "strokeWidth": 1.3},
  "encoding": {"y": {"field": "y", "type": "quantitative"}, "color": {"field": "s", "type": "nominal", "scale": {"domain": ["Full Method","DDPG","Line Teacher","Zig-Zag Teacher","Spiral Teacher"]}}}}
]}
],
"config": {
 "view": {"stroke": "#b8b8b8", "strokeWidth": 0.8},
 "range": {"category": ["#4169e1", "#ff0000", "#800080", "#ffa500", "#a52a2a"]},
 "axis": {"labelFont": "Liberation Serif", "labelFontSize": 4.8, "titleFont": "Liberation Serif", "titleFontSize": 5, "titleFontWeight": "normal", "ticks": false, "domain": false, "grid": false, "labelColor": "#222", "titleColor": "#222", "labelFlush": false},
 "axisX": {"labelPadding": 1.5, "titlePadding": 1.5},
 "axisY": {"labelPadding": 1.5, "titlePadding": 1},
 "title": {"font": "Liberation Serif", "fontSize": 10, "fontWeight": "normal", "color": "#111"}
}
}
